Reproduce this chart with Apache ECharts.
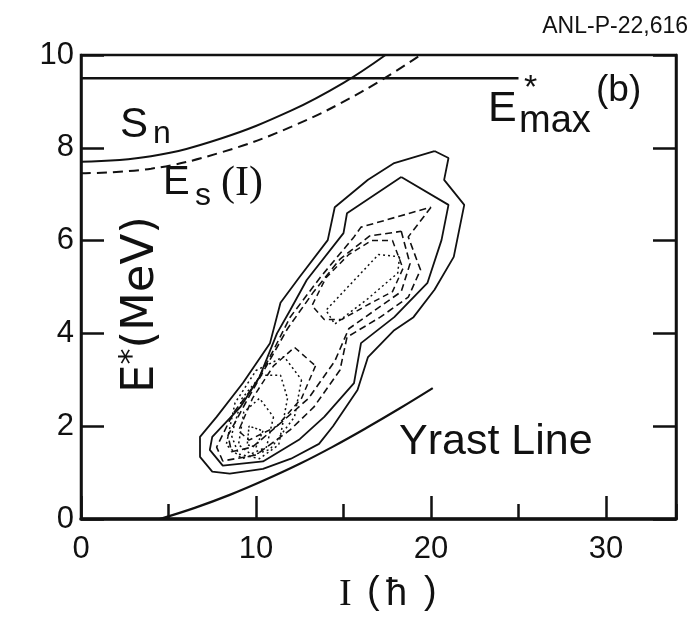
<!DOCTYPE html>
<html>
<head>
<meta charset="utf-8">
<script src="https://cdn.jsdelivr.net/npm/echarts@6/dist/echarts.min.js"></script>
<style>
  html, body { margin: 0; padding: 0; background: #fff; }
  #chart { width: 695px; height: 618px; }
</style>
</head>
<body>
<div id="chart"></div>
<script>
// Axis ticks
const xTicks = [0, 10, 20, 30];
const yTicks = [0, 2, 4, 6, 8, 10];

// Horizontal E*max line (b)
const eMaxLine = [[0, 9.5], [25, 9.5]];

// Upper solid curve (S_n side) and dashed E_s(I) curve
const snCurve = [[0, 7.7], [4, 7.82], [8, 8.2], [12, 8.8], [15, 9.4], [17.4, 10]];
const esCurve = [[0, 7.45], [4, 7.55], [8, 7.9], [12, 8.45], [16, 9.2], [19.4, 10]];

// Yrast line
const yrast = [[4.5, 0], [6.5, 0.24], [8.5, 0.52], [10.5, 0.84], [12.5, 1.19], [14.4, 1.56], [16.3, 1.96], [18.2, 2.38], [20.1, 2.82]];

// Population contours (closed polygons, I vs E*)
const contourSolid1 = [[20.2, 7.93], [21.0, 7.78], [20.75, 7.31], [21.9, 6.77], [21.3, 5.65], [20.2, 4.94], [19.0, 4.35],
  [17.9, 4.07], [16.4, 3.49], [15.8, 2.78], [14.4, 2.0], [13.6, 1.62], [12.0, 1.3], [10.4, 1.08], [8.5, 0.98], [7.5, 1.02],
  [6.8, 1.34], [6.8, 1.77], [7.75, 2.2], [9.25, 2.93], [10.8, 3.79], [11.4, 4.66], [12.5, 5.22], [14.1, 6.01],
  [14.5, 6.72], [16.4, 7.31], [17.9, 7.67], [20.2, 7.93]];
const contourSolid2 = [[18.3, 7.37], [21.0, 6.77], [20.6, 6.01], [19.8, 5.09], [17.9, 4.35], [16.0, 3.79], [15.6, 2.93],
  [13.9, 2.2], [12.5, 1.72], [10.4, 1.24], [8.1, 1.15], [7.36, 1.49], [7.5, 1.77], [9.1, 2.41], [10.2, 3.06],
  [11.2, 4.0], [11.95, 4.5], [12.9, 5.15], [15.0, 6.16], [15.2, 6.59], [18.3, 7.37]];
const contourDash1 = [[20.0, 6.72], [18.7, 6.08], [19.4, 5.37], [18.7, 4.78], [17.1, 4.35], [15.2, 3.92], [14.8, 3.21],
  [13.3, 2.41], [11.95, 1.92], [10.0, 1.38], [8.1, 1.25], [7.75, 1.55], [8.7, 2.28], [10.0, 2.93], [11.0, 3.64],
  [11.95, 4.35], [13.7, 5.22], [15.6, 6.08], [16.0, 6.29], [20.0, 6.72]];
const contourDash2 = [[18.3, 6.2], [18.8, 5.5], [18.3, 4.9], [16.8, 4.5], [15.3, 4.1], [14.5, 3.4], [13.0, 2.6],
  [11.5, 2.1], [9.8, 1.55], [8.6, 1.45], [8.4, 1.8], [9.4, 2.5], [10.6, 3.3], [11.8, 4.1], [13.3, 4.9],
  [14.8, 5.6], [16.5, 6.1], [18.3, 6.2]];
const contourDash3 = [[17.8, 6.0], [18.4, 5.4], [17.8, 4.9], [16.3, 4.6], [14.9, 4.3], [13.9, 4.3], [13.2, 4.6],
  [14.0, 5.2], [15.3, 5.7], [16.6, 6.0], [17.8, 6.0]];
const contourDash4 = [[13.4, 3.3], [12.6, 2.6], [11.2, 2.0], [9.6, 1.7], [9.0, 1.9], [9.8, 2.6], [11.0, 3.3], [12.2, 3.7], [13.4, 3.3]];
const contourDot1 = [[18.2, 5.65], [18.1, 5.3], [16.4, 4.75], [14.5, 4.2], [14.0, 4.5], [15.5, 5.1], [17.0, 5.7], [18.2, 5.65]];
const contourDot2 = [[11.8, 2.6], [11.3, 1.6], [10.2, 1.3], [9.0, 1.4], [8.6, 1.8], [9.2, 2.6], [10.3, 3.1], [11.4, 3.1], [11.8, 2.6]];
const contourDot3 = [[11.0, 2.2], [10.6, 1.55], [9.7, 1.4], [9.0, 1.6], [9.3, 2.3], [10.2, 2.6], [11.0, 2.2]];
const contourDot4 = [[10.4, 1.9], [10.0, 1.55], [9.5, 1.6], [9.6, 2.0], [10.4, 1.9]];
const contourDot5 = [[12.6, 3.0], [12.2, 2.2], [10.8, 1.5], [9.2, 1.3], [8.3, 1.6], [8.8, 2.5], [10.0, 3.2], [11.6, 3.5], [12.6, 3.0]];

const INK = '#111';
const SANS = 'Liberation Sans, Arial, sans-serif';
const SERIF = 'Liberation Serif, Times New Roman, serif';

function line(data, type, width, smooth) {
  return {
    type: 'line', data: data, symbol: 'none', smooth: smooth || false, silent: true,
    xAxisIndex: 0, yAxisIndex: 0,
    lineStyle: { color: INK, width: width, type: type }
  };
}

function text(left, top, str, font, extra) {
  return Object.assign({ type: 'text', left: left, top: top, style: { text: str, font: font, fill: INK } }, extra || {});
}

const chart = echarts.init(document.getElementById('chart'), null, { renderer: 'canvas' });

chart.setOption({
  animation: false,
  backgroundColor: '#fff',
  grid: { left: 81, right: 19, top: 55, bottom: 99, show: true, borderColor: INK, borderWidth: 2.5 },
  xAxis: [
    {
      type: 'value', min: 0, max: 34, interval: 10,
      axisLine: { show: true, onZero: false, lineStyle: { color: INK, width: 3.5 } },
      axisTick: { show: true, inside: true, length: 23, lineStyle: { color: INK, width: 2.5 } },
      axisLabel: {
        color: INK, fontSize: 31, fontFamily: SANS, margin: 15, showMaxLabel: false,
        formatter: v => (xTicks.indexOf(v) >= 0 ? String(v) : '')
      },
      splitLine: { show: false }
    },
    {
      type: 'value', min: 0, max: 34, interval: 5, position: 'bottom',
      axisLine: { show: false, onZero: false },
      axisTick: { show: true, inside: true, length: 15, lineStyle: { color: INK, width: 2.5 } },
      axisLabel: { show: false },
      splitLine: { show: false }
    }
  ],
  yAxis: [
    {
      type: 'value', min: 0, max: 10, interval: 2, position: 'left',
      axisLine: { show: true, onZero: false, lineStyle: { color: INK, width: 2.5 } },
      axisTick: { show: true, inside: true, length: 23, lineStyle: { color: INK, width: 2.5 } },
      axisLabel: {
        color: INK, fontSize: 31, fontFamily: SANS, margin: 7,
        formatter: v => (yTicks.indexOf(v) >= 0 ? String(v) : '')
      },
      splitLine: { show: false }
    },
    {
      type: 'value', min: 0, max: 10, interval: 2, position: 'right',
      axisLine: { show: true, onZero: false, lineStyle: { color: INK, width: 2.5 } },
      axisTick: { show: true, inside: true, length: 23, lineStyle: { color: INK, width: 2.5 } },
      axisLabel: { show: false },
      splitLine: { show: false }
    }
  ],
  series: [
    line(eMaxLine, 'solid', 2.5),
    line(snCurve, 'solid', 2, 0.4),
    line(esCurve, [10, 6], 2, 0.4),
    line(yrast, 'solid', 2.2, 0.4),
    line(contourSolid1, 'solid', 1.8),
    line(contourSolid2, 'solid', 1.8),
    line(contourDash1, [7, 4], 1.6),
    line(contourDash2, [7, 4], 1.6),
    line(contourDash3, [6, 4], 1.5),
    line(contourDash4, [6, 4], 1.5),
    line(contourDot1, [2, 3], 1.5),
    line(contourDot2, [2, 3], 1.5),
    line(contourDot3, [2, 3], 1.5),
    line(contourDot4, [2, 2], 1.5),
    line(contourDot5, [2, 3], 1.5)
  ],
  graphic: [
    text(null, 15, 'ANL-P-22,616', '23px ' + SANS, { right: 7, left: undefined }),
    // S_n
    text(120, 104, 'S', '42px ' + SANS),
    text(153, 118, 'n', '32px ' + SANS),
    // E_s(I)
    text(163, 163, 'E', '40px ' + SANS),
    text(195, 180, 's', '32px ' + SANS),
    text(221, 163, '(I)', '42px ' + SERIF),
    // E*max (b)
    text(488, 88, 'E', '43px ' + SANS),
    text(524, 72, '*', '34px ' + SANS),
    text(519, 103, 'max', '38px ' + SANS),
    text(596, 72, '(b)', '37px ' + SANS),
    // Yrast Line
    text(399, 421, 'Yrast Line', '43px ' + SANS),
    // Horizontal axis title: I (ħ)
    text(339, 576, 'I', '38px ' + SERIF),
    text(367, 574, '(', '38px ' + SANS),
    text(386, 576, 'ħ', '38px ' + SANS),
    text(424, 574, ')', '38px ' + SANS),
    // Vertical axis title: E*(MeV)
    {
      type: 'text', x: 117, y: 393, rotation: Math.PI / 2,
      style: {
        text: '{e|E}{s|*}{e|(MeV)}', fill: INK,
        rich: {
          e: { font: '45px DejaVu Sans, sans-serif', fill: INK },
          s: { font: '32px DejaVu Sans, sans-serif', fill: INK, verticalAlign: 'top', padding: [0, 0, 16, 0] }
        }
      }
    }
  ]
});
</script>
</body>
</html>
